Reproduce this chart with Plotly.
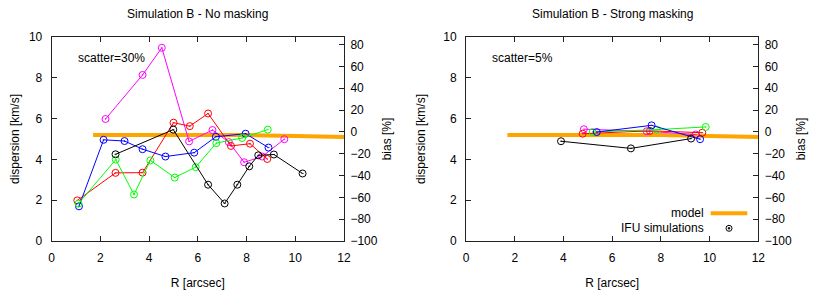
import plotly.graph_objects as go

# ---------------- data (left panel: no masking, scatter=30%) ----------------
r_mag_a = [2.21, 3.73, 4.52, 5.64, 6.60, 7.27, 7.90, 8.64, 9.55]
s_mag_a = [5.98, 8.14, 9.47, 4.88, 5.44, 4.85, 3.86, 4.14, 4.99]
r_red_a = [1.05, 2.62, 3.73, 5.00, 5.67, 6.42, 7.36, 8.14, 8.85]
s_red_a = [1.99, 3.34, 3.35, 5.80, 5.63, 6.25, 4.66, 4.77, 4.02]
r_blu_a = [1.12, 2.13, 2.99, 3.73, 4.67, 5.85, 6.74, 7.96, 8.90]
s_blu_a = [1.70, 4.96, 4.90, 4.50, 4.14, 4.33, 5.11, 5.26, 4.58]
r_grn_a = [1.10, 2.63, 3.38, 4.05, 5.05, 5.91, 6.76, 7.82, 8.87]
s_grn_a = [1.83, 3.99, 2.28, 3.95, 3.11, 3.62, 4.80, 5.05, 5.46]
r_blk_a = [2.62, 4.99, 6.42, 7.10, 7.62, 8.11, 8.48, 9.12, 10.30]
s_blk_a = [4.25, 5.46, 2.76, 1.84, 2.76, 3.66, 4.20, 4.24, 3.31]

# ---------------- data (right panel: strong masking, scatter=5%) ----------------
r_mag_b = [4.84, 7.42, 9.43]
s_mag_b = [5.48, 5.38, 5.22]
r_red_b = [4.79, 7.55, 9.70]
s_red_b = [5.26, 5.40, 5.31]
r_grn_b = [5.20, 7.83, 9.84]
s_grn_b = [5.34, 5.46, 5.59]
r_blu_b = [5.37, 7.62, 9.61]
s_blu_b = [5.34, 5.67, 4.99]
r_blk_b = [3.90, 6.77, 9.24]
s_blk_b = [4.89, 4.54, 5.02]

# model curve
r_model = [1.7, 4.0, 6.0, 8.0, 10.0, 12.0]
s_model = [5.20, 5.21, 5.21, 5.19, 5.15, 5.10]

x_ticks = [0, 2, 4, 6, 8, 10, 12]
y_ticks = [0, 2, 4, 6, 8, 10]
bias_ticks = [-100, -80, -60, -40, -20, 0, 20, 40, 60, 80]

colors = {"mag": "#ff00ff", "red": "#ff0000", "grn": "#00ff00", "blu": "#0000ff", "blk": "#000000"}
ORANGE = "#ffa500"
FONT = "Liberation Sans, Arial, sans-serif"

fig = go.Figure()

def add_panel(xa, ya, ya_bias, series):
    # empty trace so that the bias axis is drawn
    fig.add_trace(go.Scatter(x=[], y=[], mode="lines", xaxis=xa, yaxis=ya_bias,
                             showlegend=False, hoverinfo="skip"))
    fig.add_trace(go.Scatter(x=r_model, y=s_model, mode="lines", xaxis=xa, yaxis=ya,
                             line=dict(color=ORANGE, width=4), showlegend=False, hoverinfo="skip"))
    for key, rx, sy in series:
        fig.add_trace(go.Scatter(x=rx, y=sy, mode="lines+markers", xaxis=xa, yaxis=ya,
                                 line=dict(color=colors[key], width=1),
                                 marker=dict(symbol="circle-open-dot", size=7, color=colors[key],
                                             line=dict(width=1, color=colors[key])),
                                 showlegend=False))

add_panel("x", "y", "y2", [("mag", r_mag_a, s_mag_a), ("red", r_red_a, s_red_a), ("blu", r_blu_a, s_blu_a),
                           ("grn", r_grn_a, s_grn_a), ("blk", r_blk_a, s_blk_a)])
add_panel("x2", "y3", "y4", [("mag", r_mag_b, s_mag_b), ("red", r_red_b, s_red_b), ("grn", r_grn_b, s_grn_b),
                             ("blu", r_blu_b, s_blu_b), ("blk", r_blk_b, s_blk_b)])

# The page body has an 8px margin, so the figure is drawn 8px right/down of the window corner.
OFF = 8
W, H = 814, 283
TOP_PAGE, BOT_PAGE = 36.7, 240.7
T = TOP_PAGE - OFF
B = H - (BOT_PAGE - OFF)
ph = H - T - B

def pxp(page_x):
    return (page_x - OFF) / W

def pyp(page_y):
    return (BOT_PAGE - page_y) / ph

axis_common = dict(showline=True, linecolor="#222", linewidth=1, showgrid=False, zeroline=False,
                   ticks="inside", ticklen=5, tickcolor="#222", tickwidth=1, automargin=False,
                   tickfont=dict(family=FONT, size=12, color="#000"))

xcfg = dict(axis_common, range=[0, 12], tickvals=x_ticks, mirror="ticks",
            title=dict(text="R [arcsec]", font=dict(family=FONT, size=12, color="#000"), standoff=14),
            ticklabelstandoff=6)
ycfg = dict(axis_common, range=[0, 10], tickvals=y_ticks, mirror=True,
            title=dict(text="dispersion [km/s]", font=dict(family=FONT, size=12, color="#000"), standoff=15),
            ticklabelstandoff=6)
bcfg = dict(axis_common, range=[-100, 87], tickvals=bias_ticks, side="right",
            title=dict(text="bias [%]", font=dict(family=FONT, size=12, color="#000"), standoff=5),
            ticklabelstandoff=3)

dom1 = [pxp(51.7), pxp(344.0)]
dom2 = [pxp(466.0), pxp(758.3)]

fig.update_layout(
    width=W, height=H,
    margin=dict(l=0, r=0, t=T, b=B, autoexpand=False),
    paper_bgcolor="white", plot_bgcolor="white",
    font=dict(family=FONT, size=12, color="#000"),
    showlegend=False,
    xaxis=dict(xcfg, domain=dom1, anchor="y"),
    yaxis=dict(ycfg, domain=[0, 1], anchor="x"),
    yaxis2=dict(bcfg, overlaying="y", anchor="x"),
    xaxis2=dict(xcfg, domain=dom2, anchor="y3"),
    yaxis3=dict(ycfg, domain=[0, 1], anchor="x2"),
    yaxis4=dict(bcfg, overlaying="y3", anchor="x2"),
)

annots = [
    dict(text="Simulation B - No masking", x=(dom1[0] + dom1[1]) / 2, y=pyp(14), xanchor="center"),
    dict(text="Simulation B - Strong masking", x=(dom2[0] + dom2[1]) / 2, y=pyp(14), xanchor="center"),
    dict(text="scatter=30%", x=pxp(76), y=pyp(58), xanchor="left"),
    dict(text="scatter=5%", x=pxp(490), y=pyp(58), xanchor="left"),
    dict(text="model", x=pxp(705.7), y=pyp(213), xanchor="right"),
    dict(text="IFU simulations", x=pxp(705.7), y=pyp(228), xanchor="right"),
]
for a in annots:
    fig.add_annotation(xref="paper", yref="paper", showarrow=False, yanchor="middle",
                       font=dict(family=FONT, size=12, color="#000"), **a)

# manual legend keys (gnuplot style: text then sample)
ly1 = pyp(213)
fig.add_shape(type="line", xref="paper", yref="paper", x0=pxp(710.7), x1=pxp(747.3), y0=ly1, y1=ly1,
              line=dict(color=ORANGE, width=4))
ly2 = pyp(228)
cx = pxp(729)
fig.add_shape(type="circle", xref="paper", yref="paper", x0=cx - 3 / W, x1=cx + 3 / W,
              y0=ly2 - 3 / ph, y1=ly2 + 3 / ph, line=dict(color="#000", width=1))
fig.add_shape(type="circle", xref="paper", yref="paper", x0=cx - 1 / W, x1=cx + 1 / W,
              y0=ly2 - 1 / ph, y1=ly2 + 1 / ph, line=dict(color="#000", width=0.5), fillcolor="#000")

fig.write_html("out.html")
